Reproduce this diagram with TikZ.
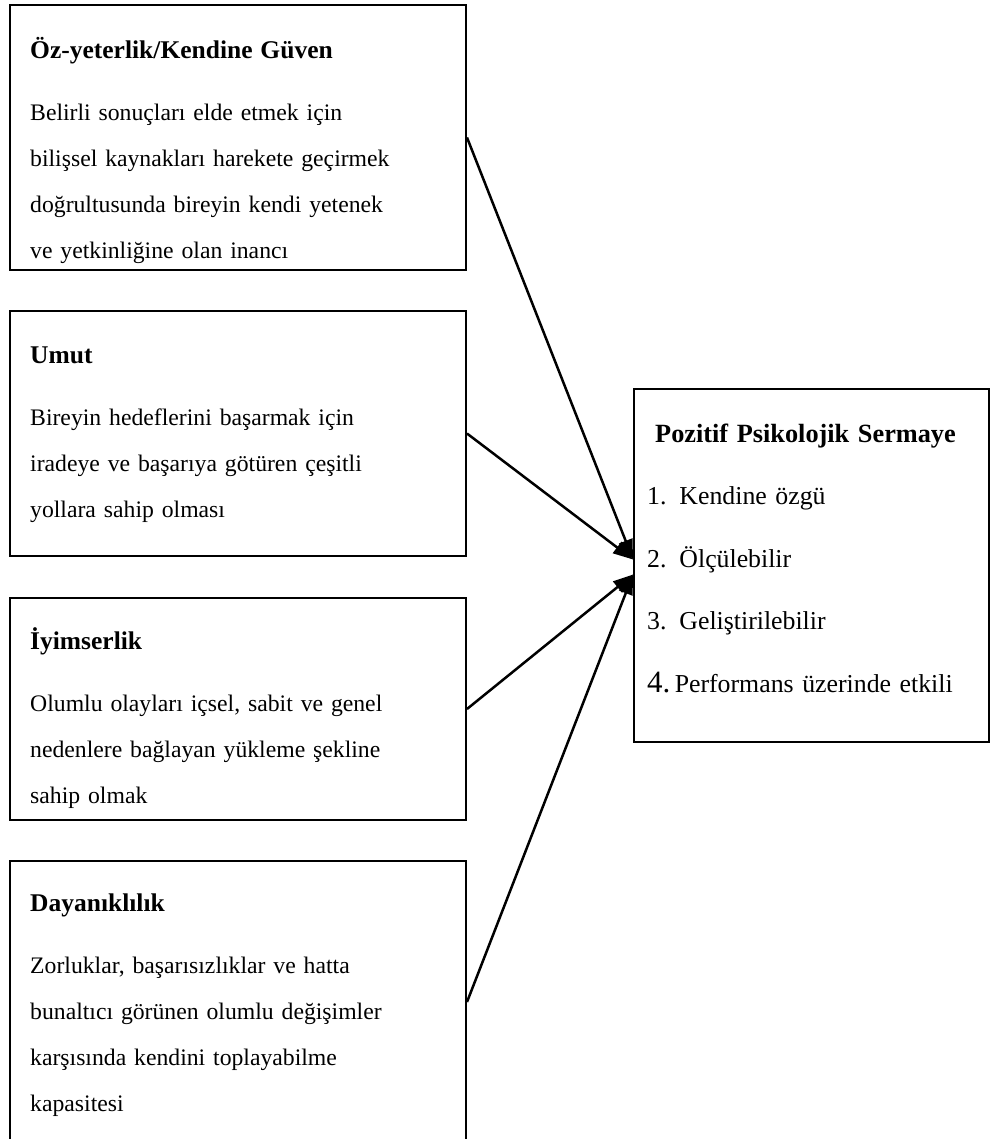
\documentclass[tikz,border=0pt]{standalone}
\usepackage{fontspec}
\setmainfont{Liberation Serif}
\usetikzlibrary{arrows.meta}

\begin{document}
\begin{tikzpicture}[
  x=1pt, y=-1pt,
  box/.style={rectangle, draw, line width=2pt, minimum width=456pt, inner sep=0pt},
  txt/.style={anchor=base west, inner sep=0pt, align=left, text width=440pt, font=\fontsize{23.7}{46}\selectfont},
  arr/.style={-{Triangle[length=20pt,width=14pt]}, line width=2.5pt}
]
\useasboundingbox (0,0) rectangle (991,1139);

% Left boxes
\node[box, minimum height=265pt] (ozyet) at (238,137.5) {};
\node[box, minimum height=245pt] (umut) at (238,433.5) {};
\node[box, minimum height=222pt] (iyim) at (238,709) {};
\node[box, minimum height=282pt] (dayan) at (238,1002) {};

% Right box
\node[box, minimum width=355pt, minimum height=353pt] (pps) at (811.5,565.5) {};

% Texts
\node[txt] (ozyettxt) at (30,58.5) {{\fontsize{25.5}{46}\selectfont\bfseries Öz-yeterlik/Kendine Güven}\\[16pt]
  Belirli sonuçları elde etmek için\\
  bilişsel kaynakları harekete geçirmek\\
  doğrultusunda bireyin kendi yetenek\\
  ve yetkinliğine olan inancı};
\node[txt] (umuttxt) at (30,363.5) {{\fontsize{25.5}{46}\selectfont\bfseries Umut}\\[16pt]
  Bireyin hedeflerini başarmak için\\
  iradeye ve başarıya götüren çeşitli\\
  yollara sahip olması};
\node[txt] (iyimtxt) at (30,649.5) {{\fontsize{25.5}{46}\selectfont\bfseries İyimserlik}\\[16pt]
  Olumlu olayları içsel, sabit ve genel\\
  nedenlere bağlayan yükleme şekline\\
  sahip olmak};
\node[txt] (dayantxt) at (30,911) {{\fontsize{25.5}{46}\selectfont\bfseries Dayanıklılık}\\[16pt]
  Zorluklar, başarısızlıklar ve hatta\\
  bunaltıcı görünen olumlu değişimler\\
  karşısında kendini toplayabilme\\
  kapasitesi};

\node[txt, text width=335pt, font=\fontsize{25.8}{62.5}\selectfont] (ppstxt) at (647,442) {\hspace*{8pt}{\fontsize{26.3}{62.5}\selectfont\bfseries Pozitif Psikolojik Sermaye}\\
  1. Kendine özgü\\
  2. Ölçülebilir\\
  3. Geliştirilebilir\\
  {\fontsize{31}{62.5}\selectfont 4.}\,Performans üzerinde etkili};

% Arrows
\draw[arr] (ozyet.east) -- ([yshift=6pt]pps.west);
\draw[arr] (umut.east) -- ([yshift=6pt]pps.west);
\draw[arr] (iyim.east) -- ([yshift=-9pt]pps.west);
\draw[arr] (dayan.east) -- ([yshift=-9pt]pps.west);

\end{tikzpicture}
\end{document}
